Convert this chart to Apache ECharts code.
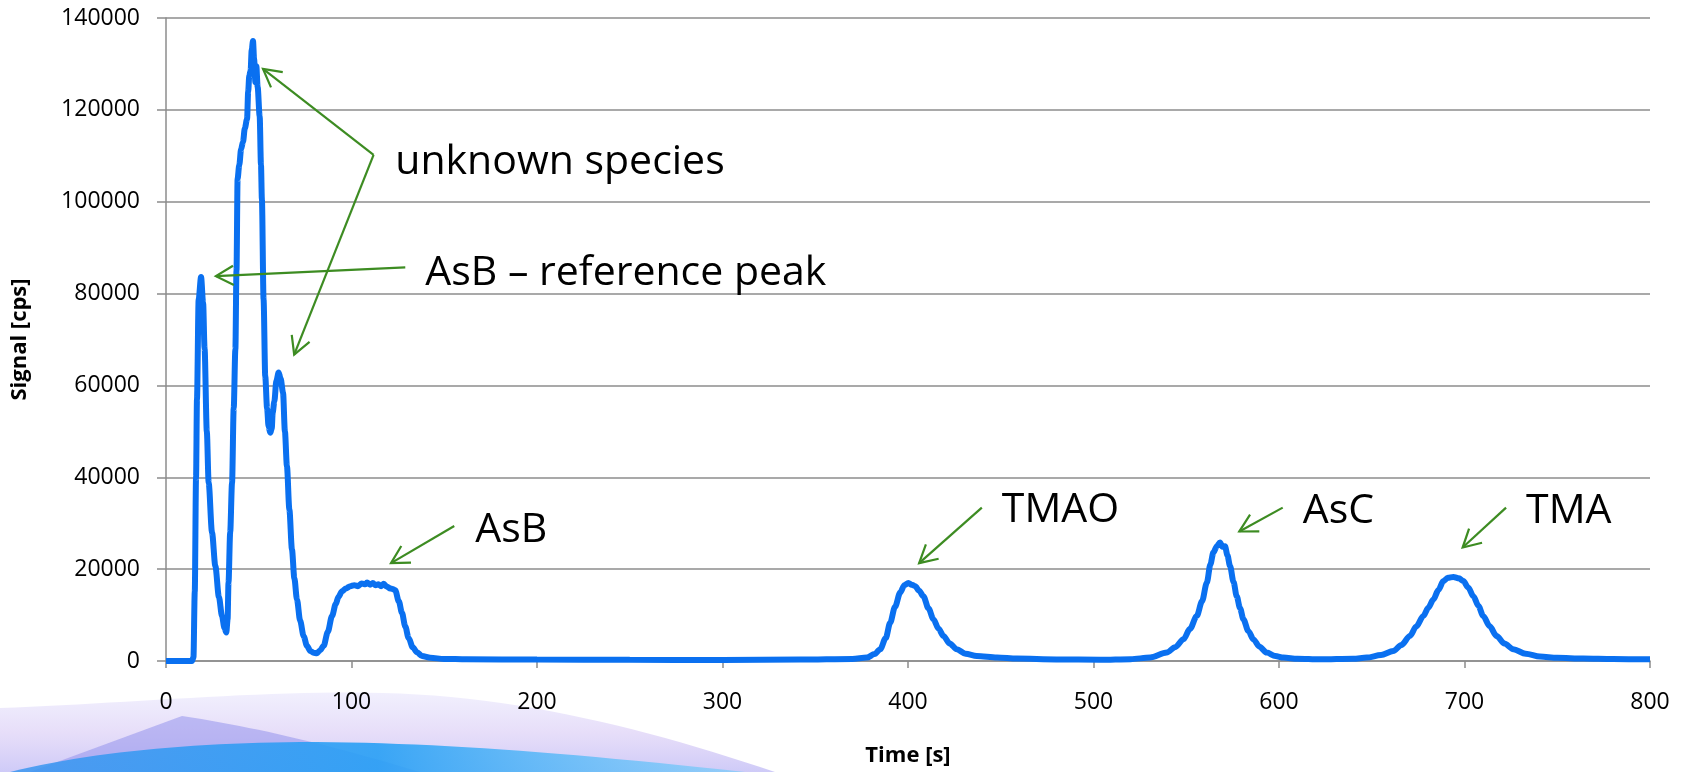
<!DOCTYPE html>
<html>
<head>
<meta charset="utf-8">
<script src="https://cdn.jsdelivr.net/npm/echarts@6/dist/echarts.min.js"></script>
<style>
html,body{margin:0;padding:0;background:#fff;}
#chart{width:1688px;height:772px;}
</style>
</head>
<body>
<div id="chart"></div>
<script>
// ---- data ----
var timeS = [0,10,14,14.8,15.5,16.2,16.7,17.6,18.9,20.0,20.8,22,23,24.8,26.6,28.5,30.2,31.5,32.5,33.2,33.7,34.6,35.6,36.5,37.4,38.0,38.6,39.5,40.5,41.5,42.5,43.7,44.3,44.9,45.6,46.2,46.9,47.5,48.2,48.7,49.4,50.5,51.2,51.7,52.6,53.5,54.5,55.3,56.2,57.0,57.5,58.4,59.5,60.7,61.8,63.1,64.1,65.2,66.5,67.9,69.2,70.6,72.3,74.2,76,77.8,79.5,81.4,83,85,87.2,89.5,91.5,93,94.9,97,99.4,101.5,103.5,105.5,107.5,108.4,110,111.5,113,114.5,116,117.4,119,120.9,122,123.6,125.5,127.2,129,130.8,133,135.3,138,142.5,150,162,200,250,300,342,370,377.8,382,385,388,390.4,393,395.8,398,400.2,402,403.9,406,408.3,411,413.7,416.5,419.1,422.5,426.3,431,437.1,448,458.7,480,503.6,520,530.5,539.5,544,548.5,552,555.7,558.5,561.1,563,564.6,566.5,568.2,569.5,570.9,572.2,573.6,575.5,577.2,579,580.8,583.5,586.2,589.5,593.4,598,602.4,610,622,640,647.3,655,661.6,666,670.6,674,677.8,680.5,683.2,686,688.6,691,694,697,699.4,702,704.8,707.5,710.1,713.5,717.3,721.5,726.3,733,740.7,750,764,780,800];
var signalCps = [0,0,0,800,15000,40000,57000,78700,83600,78000,68000,50000,38800,28000,20700,14000,9800,7200,6200,9000,17100,28000,38800,55000,67900,85000,105000,108000,111500,113000,116000,118000,124000,127500,128500,133000,135000,131000,126000,129500,125000,118600,108000,100500,78700,62000,55000,51000,49700,50500,54000,56500,61000,62800,61500,58400,50000,42400,33000,24300,18000,13400,8800,5400,3300,2200,1800,1700,2300,3300,6300,9800,12400,14000,15200,15800,16300,16500,16300,16900,16700,17100,16600,17000,16500,16700,16300,16800,16200,15800,15700,15400,13000,10500,7500,5000,3000,1900,1100,700,450,370,300,250,230,300,450,740,1500,2550,5000,8350,11800,14900,16500,17000,16600,16300,15300,14100,11500,9100,7000,5450,3800,2550,1600,1100,750,520,350,250,400,740,1830,3000,4720,7000,9800,13000,17060,21000,23600,25000,25800,24900,25000,23000,20700,17200,14100,11500,9100,6500,4700,3100,1830,1100,740,500,370,500,740,1300,2180,3500,5440,7500,9800,11600,13400,15500,17400,18100,18300,18000,17400,16000,14100,12000,9800,7600,5440,3800,2550,1600,960,700,520,420,370];

var xTicks = [0,100,200,300,400,500,600,700,800];
var yTicks = [0,20000,40000,60000,80000,100000,120000,140000];

// annotation labels: text, time of left edge, signal of text middle
var annoText   = ['unknown species','AsB \u2013 reference peak','AsB','TMAO','AsC','TMA'];
var annoTextT  = [123.6,139.8,166.7,450.6,612.8,733.2];
var annoTextV  = [108600,84300,28400,32700,32500,32500];
// arrows: from (time, signal) to tip (time, signal)
var arrowFromT = [111.9,111.9,129,155.4,439.8,602,722.4];
var arrowFromV = [110200,110200,85700,29400,33400,33400,33400];
var arrowTipT  = [52.3,69.1,26.9,121.3,406,578.6,699];
var arrowTipV  = [128900,66700,83800,21300,21300,28200,24700];

var points = timeS.map(function(t,i){return [t, signalCps[i]];});

var chart = echarts.init(document.getElementById('chart'), null, {renderer:'canvas'});
var FONT = '"Open Sans", "Liberation Sans", sans-serif';
var gray = '#8c8c8c';

function lin(stops, vertical){ return {type:'linear', x:0, y:0, x2:vertical?0:1, y2:vertical?1:0, colorStops:stops}; }
// sample a chain of cubic bezier segments into polygon points
function bez(start, segs){
  var pts=[start.slice()], cur=start;
  segs.forEach(function(s){
    if (s.length===2){ pts.push(s.slice()); cur=s; return; }
    for (var k=1;k<=24;k++){
      var t=k/24, u=1-t;
      pts.push([u*u*u*cur[0]+3*u*u*t*s[0]+3*u*t*t*s[2]+t*t*t*s[4],
                u*u*u*cur[1]+3*u*u*t*s[1]+3*u*t*t*s[3]+t*t*t*s[5]]);
    }
    cur=[s[4],s[5]];
  });
  return pts;
}

var option = {
  animation:false,
  backgroundColor:'#ffffff',
  grid:{left:166, right:38, top:18, bottom:110, containLabel:false},
  xAxis:{
    type:'value', min:xTicks[0], max:xTicks[xTicks.length-1], interval:100,
    name:'Time [s]', nameLocation:'middle', nameGap:84,
    nameTextStyle:{fontFamily:FONT, fontWeight:'bold', fontSize:22, color:'#000'},
    axisLine:{show:true, lineStyle:{color:gray, width:1.5}},
    axisTick:{show:true, length:7, lineStyle:{color:gray, width:1.5}},
    axisLabel:{fontFamily:FONT, fontSize:23, color:'#000', margin:30},
    splitLine:{show:false}
  },
  yAxis:{
    type:'value', min:yTicks[0], max:yTicks[yTicks.length-1], interval:20000,
    name:'Signal [cps]', nameLocation:'middle', nameGap:135, nameRotate:90,
    nameTextStyle:{fontFamily:FONT, fontWeight:'bold', fontSize:22, color:'#000'},
    axisLine:{show:true, lineStyle:{color:gray, width:1.5}},
    axisTick:{show:true, length:9, lineStyle:{color:gray, width:1.5}},
    axisLabel:{fontFamily:FONT, fontSize:23, color:'#000', margin:26,
      formatter:function(v){return String(v);}},
    splitLine:{show:true, lineStyle:{color:gray, width:1.5}}
  },
  series:[{
    type:'line', data:points, showSymbol:false, symbol:'none',
    smooth:0.3, smoothMonotone:'x',
    lineStyle:{color:'#0a70f0', width:6},
    z:3
  }]
};
chart.setOption(option);

// decorations (slide background waves, bottom-left) + annotations
var g = [];
g.push({type:'polygon', z:-10, silent:true,
  shape:{points:bez([0,772],[[0,708],[120,704,260,690,383,693],[520,696,650,730,775,772]])},
  style:{fill:lin([{offset:0,color:'rgba(215,210,250,0.35)'},{offset:0.5,color:'rgba(215,200,245,0.6)'},{offset:1,color:'rgba(190,185,245,0.75)'}], true)}});
g.push({type:'polygon', z:-9, silent:true,
  shape:{points:bez([30,772],[[182,716],[260,728,330,745,420,772]])},
  style:{fill:'rgba(140,140,235,0.5)'}});
g.push({type:'polygon', z:-8, silent:true,
  shape:{points:bez([10,772],[[90,752,190,743,300,742],[430,742,560,752,745,772]])},
  style:{fill:lin([{offset:0,color:'rgba(60,150,240,0.85)'},{offset:0.5,color:'rgba(40,160,245,0.9)'},{offset:1,color:'rgba(110,205,250,0.6)'}])}});

var green = '#3d8c22';
for (var i=0;i<arrowTipT.length;i++){
  var p0 = chart.convertToPixel({gridIndex:0},[arrowFromT[i],arrowFromV[i]]);
  var p1 = chart.convertToPixel({gridIndex:0},[arrowTipT[i],arrowTipV[i]]);
  var ang = Math.atan2(p0[1]-p1[1], p0[0]-p1[0]);
  var L = 20, a = 0.5;
  var b1 = [p1[0]+L*Math.cos(ang+a), p1[1]+L*Math.sin(ang+a)];
  var b2 = [p1[0]+L*Math.cos(ang-a), p1[1]+L*Math.sin(ang-a)];
  g.push({type:'line', z:10, silent:true, shape:{x1:p0[0],y1:p0[1],x2:p1[0],y2:p1[1]}, style:{stroke:green, lineWidth:2.2}});
  g.push({type:'polyline', z:10, silent:true, shape:{points:[b1,p1,b2]}, style:{stroke:green, lineWidth:2.2, fill:null}});
}
for (var j=0;j<annoText.length;j++){
  var pt = chart.convertToPixel({gridIndex:0},[annoTextT[j],annoTextV[j]]);
  g.push({type:'text', z:11, silent:true, x:pt[0], y:pt[1],
    style:{text:annoText[j], fill:'#000', font:'41px '+FONT, align:'left', verticalAlign:'middle'}});
}
chart.setOption({graphic:{elements:g}});
</script>
</body>
</html>
